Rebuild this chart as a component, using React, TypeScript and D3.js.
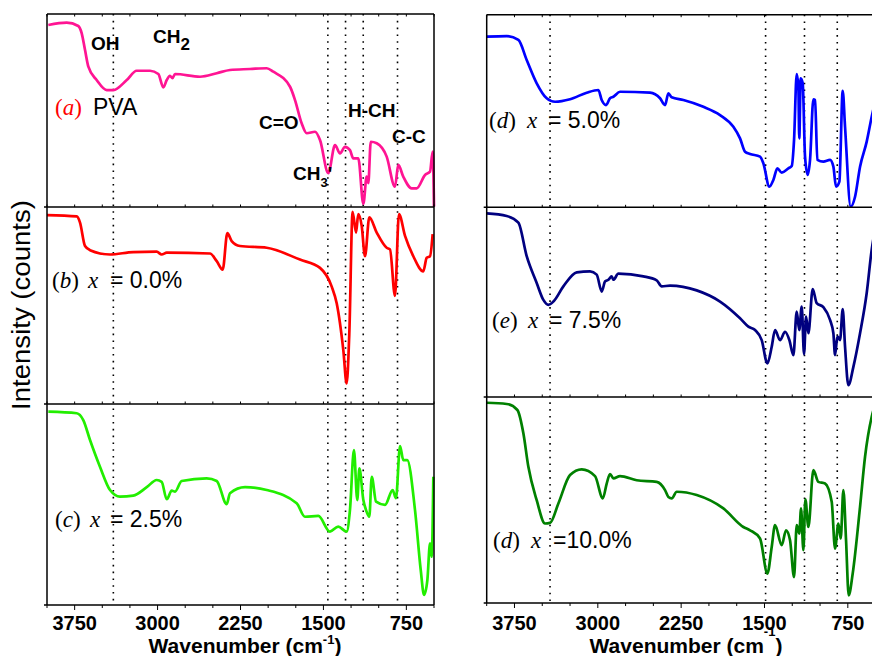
import React from 'react';
import * as d3 from 'd3';

// ---------- DATA (wavenumber in cm^-1, intensity in % of its panel height) ----------
const pvaWavenumber = [3988,3822,3717,3686,3656,3626,3551,3460,3400,3279,3189,3068,2993,2948,2917,2888,2865,2842,2616,2465,2345,2164,2013,1953,1802,1757,1697,1651,1576,1531,1456,1395,1350,1305,1260,1230,1185,1139,1109,1094,1072,1018,928,853,823,778,702,656,581,536,512,500];
const pvaIntensity = [94.3,95.5,93.8,90.0,81.3,72.7,65.8,60.6,60.6,65.8,70.6,70.6,68.9,62.0,65.8,67.9,66.8,68.9,67.5,69.3,71.0,71.5,71.9,70.1,62.3,55.4,43.4,38.2,39.0,34.7,17.5,32.1,27.8,31.2,29.5,25.2,25.2,1.6,15.7,12.4,33.8,33.0,26.1,10.5,21.8,15.7,9.7,9.7,16.6,18.3,28.7,0.2];

const x00Wavenumber = [4000,3731,3702,3656,3611,3430,3220,3008,2963,2917,2526,2465,2411,2369,2330,2255,2013,1712,1531,1425,1380,1320,1290,1266,1236,1205,1185,1154,1124,1085,1018,928,898,853,817,762,687,597,566,536,512];
const x00Intensity = [95.9,95.2,92.2,80.2,78.1,75.9,77.1,77.3,75.9,76.8,76.4,72.5,68.2,86.7,82.7,80.2,79.3,73.3,69.1,59.6,51.1,27.2,10.4,35.7,97.6,87.0,96.4,90.4,75.0,94.7,87.0,79.3,78.5,54.9,96.4,85.3,75.0,67.3,74.2,75.0,86.2];

const x25Wavenumber = [3988,3731,3672,3611,3521,3430,3340,3220,3098,3008,2963,2917,2872,2842,2782,2556,2465,2375,2345,2209,2013,1742,1667,1546,1441,1366,1290,1260,1224,1194,1175,1139,1115,1085,1063,1024,943,874,844,807,778,742,672,620,590,560,536,521,506];
const x25Intensity = [96.2,95.4,92.0,82.1,68.8,57.2,53.9,54.4,58.6,62.2,61.3,52.6,56.9,56.4,61.7,63.0,61.7,50.2,55.6,58.6,57.2,50.6,43.9,44.3,36.5,39.0,36.5,47.3,77.1,52.2,68.0,52.2,47.3,43.9,63.8,51.4,49.8,57.2,53.1,79.1,72.1,72.1,47.3,17.4,5.0,12.4,30.7,24.0,63.8];

const x50Wavenumber = [4000,3820,3715,3640,3550,3460,3385,3250,3100,2995,2965,2926,2890,2860,2800,2530,2440,2395,2365,2335,2230,2050,1900,1780,1720,1675,1630,1540,1510,1456,1420,1384,1345,1285,1255,1234,1210,1195,1187,1174,1156,1135,1111,1090,1060,1045,1024,970,910,880,856,826,796,775,724,685,640,580,535,500];
const x50Intensity = [88.6,88.9,86.9,76.5,64.4,56.6,54.8,56.1,59.5,60.9,55.7,53.1,56.6,57.4,60.0,59.5,56.6,53.1,59.2,57.1,55.7,52.2,47.9,41.8,35.8,28.9,27.7,26.3,22.8,10.7,14.2,20.2,18.0,20.2,21.4,34.9,69.2,62.6,35.8,67.0,64.4,26.3,16.8,24.6,56.1,55.7,24.6,23.7,24.6,21.1,10.7,13.3,60.5,41.8,0.3,5.5,21.1,34.1,47.0,56.0];

const x75Wavenumber = [4000,3820,3715,3640,3550,3490,3445,3400,3310,3190,3070,3010,2965,2935,2905,2875,2860,2815,2590,2470,2425,2350,2110,1900,1720,1645,1585,1525,1474,1435,1405,1360,1315,1276,1240,1210,1187,1165,1144,1126,1105,1066,1030,970,910,880,865,844,820,796,775,745,700,640,580,535,500];
const x75Intensity = [96.8,95.4,91.9,74.2,60.1,51.2,48.6,50.3,58.3,65.7,66.2,64.5,55.6,60.9,61.8,63.6,61.8,65.0,63.6,61.5,58.3,58.7,56.2,50.3,41.5,37.1,35.3,30.0,17.7,26.5,35.3,30.0,34.4,30.0,22.1,45.0,35.3,47.7,22.6,42.4,33.6,56.9,49.5,47.4,40.6,33.6,22.1,31.8,30.0,46.3,26.5,6.2,15.9,33.6,54.8,77.7,90.0];

const x100Wavenumber = [4000,3820,3724,3670,3625,3550,3475,3430,3355,3250,3145,3025,2955,2920,2890,2860,2800,2650,2470,2395,2365,2335,2290,2110,1870,1690,1630,1540,1474,1435,1405,1345,1306,1270,1234,1210,1187,1171,1150,1132,1105,1060,1015,955,895,865,835,814,790,766,742,706,640,595,535,500];
const x100Intensity = [97.2,96.6,93.7,82.4,66.1,49.9,38.6,38.9,48.3,62.1,64.9,61.6,50.8,58.0,62.6,60.5,61.6,59.6,58.8,54.8,51.5,50.8,54.0,52.4,45.9,36.9,35.3,31.3,14.3,27.2,37.8,28.1,35.3,30.5,12.6,37.8,33.7,45.9,25.6,50.3,36.9,64.5,58.8,58.0,49.1,26.4,38.6,31.3,54.8,30.5,3.7,14.3,46.7,71.0,90.4,97.0];

const leftGuides = [3400, 1460, 1300, 1140, 830];
const rightGuides = [3430, 1490, 1140, 845];
const tickValues = d3.range(4000, 499, -250);
const tickLabels = [3750, 3000, 2250, 1500, 750];

// ---------- LAYOUT ----------
const W = 872, H = 656;
const SANS = "'Liberation Sans', Arial, sans-serif";
const SERIF = "'Liberation Serif', 'Times New Roman', serif";

type Panel = { top: number; bottom: number; wn: number[]; val: number[]; color: string };

const leftCol = { x0: 47, x1: 434, top: 14, bottom: 605 };
const rightCol = { x0: 486.7, x1: 875.6, top: 14.7, bottom: 603 };

const leftPanels: Panel[] = [
  { top: 14, bottom: 207, wn: pvaWavenumber, val: pvaIntensity, color: '#ff1493' },
  { top: 207, bottom: 404, wn: x00Wavenumber, val: x00Intensity, color: '#ff0000' },
  { top: 404, bottom: 605, wn: x25Wavenumber, val: x25Intensity, color: '#22ee00' },
];
const rightPanels: Panel[] = [
  { top: 14.7, bottom: 207.3, wn: x50Wavenumber, val: x50Intensity, color: '#0000ff' },
  { top: 207.3, bottom: 397, wn: x75Wavenumber, val: x75Intensity, color: '#000080' },
  { top: 397, bottom: 603, wn: x100Wavenumber, val: x100Intensity, color: '#008000' },
];

function Column({ col, panels, guides, titleX, supDy }: any) {
  const x = d3.scaleLinear().domain([4000, 500]).range([col.x0, col.x1]);
  return (
    <g>
      {guides.map((g: number) => (
        <line key={'g' + g} x1={x(g)} x2={x(g)} y1={col.top} y2={col.bottom}
          stroke="#000" strokeWidth={1.6} strokeDasharray="1.6,5.2" />
      ))}
      {panels.map((p: Panel, i: number) => {
        const y = d3.scaleLinear().domain([0, 100]).range([p.bottom, p.top]);
        const line = d3.line<number>().x((_, k) => x(p.wn[k])).y((v) => y(v)).curve(d3.curveMonotoneX);
        return <path key={'s' + i} d={line(p.val) || ''} fill="none" stroke={p.color}
          strokeWidth={2.7} strokeLinejoin="round" />;
      })}
      <line x1={col.x0} x2={col.x1} y1={col.top} y2={col.top} stroke="#000" strokeWidth={1.5} />
      <line x1={col.x0} x2={col.x0} y1={col.top} y2={col.bottom} stroke="#000" strokeWidth={1.5} />
      <line x1={col.x1} x2={col.x1} y1={col.top} y2={col.bottom} stroke="#000" strokeWidth={1.5} />
      {panels.map((p: Panel, i: number) => (
        <g key={'b' + i}>
          <line x1={col.x0 - 3} x2={col.x1} y1={p.bottom} y2={p.bottom} stroke="#000" strokeWidth={1.5} />
          {tickValues.map((t) => (
            <line key={t} x1={x(t)} x2={x(t)} y1={p.bottom}
              y2={i === panels.length - 1 ? p.bottom + (tickLabels.includes(t) ? 5 : 3) : p.bottom - 2.5}
              stroke="#000" strokeWidth={1} />
          ))}
        </g>
      ))}
      {tickValues.map((t) => (
        <line key={'t' + t} x1={x(t)} x2={x(t)} y1={col.top} y2={col.top + 2.5} stroke="#000" strokeWidth={1} />
      ))}
      {tickLabels.map((t) => (
        <text key={'l' + t} x={x(t)} y={630} textAnchor="middle" fontFamily={SANS}
          fontWeight="bold" fontSize={20}>{t}</text>
      ))}
      <text x={titleX} y={653} textAnchor="middle" fontFamily={SANS} fontWeight="bold" fontSize={21}>
        Wavenumber (cm<tspan fontSize={13} dy={supDy}>-1</tspan><tspan dy={-supDy}>)</tspan>
      </text>
    </g>
  );
}

function SampleLabel({ x0, y, letter, xPos, eqPos, rest }: any) {
  return (
    <text y={y} fontSize={23}>
      <tspan x={x0} fontFamily={SERIF}>(</tspan>
      <tspan fontFamily={SERIF} fontStyle="italic">{letter}</tspan>
      <tspan fontFamily={SERIF}>)</tspan>
      <tspan x={xPos} fontFamily={SERIF} fontStyle="italic">x</tspan>
      <tspan x={eqPos} fontFamily={SANS}>{rest}</tspan>
    </text>
  );
}

export default function App() {
  const ann = { fontFamily: SANS, fontWeight: 'bold' as const, fontSize: 19 };
  return (
    <svg width={W} height={H} style={{ position: 'absolute', left: 0, top: 0, background: '#fff' }}>
      <rect width={W} height={H} fill="#fff" />
      <Column col={leftCol} panels={leftPanels} guides={leftGuides} titleX={245} supDy={-9} />
      <Column col={rightCol} panels={rightPanels} guides={rightGuides} titleX={686} supDy={-17} />

      <text transform="translate(30,305) rotate(-90)" textAnchor="middle" fontFamily={SANS}
        fontSize={25} textLength={210} lengthAdjust="spacingAndGlyphs">Intensity (counts)</text>

      <text x={91} y={50} {...ann}>OH</text>
      <text x={153} y={43} {...ann}>CH<tspan fontSize={17} dy={7}>2</tspan></text>
      <text x={259} y={129} {...ann}>C=O</text>
      <text x={348} y={117} {...ann}>H-CH</text>
      <text x={392} y={143} {...ann}>C-C</text>
      <text x={293} y={180} {...ann}>CH<tspan fontSize={13} dy={7}>3</tspan><tspan dy={-7}>'</tspan></text>

      <text y={115} fontSize={23}>
        <tspan x={55} fontFamily={SERIF} fill="#ff0000">(</tspan>
        <tspan fontFamily={SERIF} fontStyle="italic" fill="#ff0000">a</tspan>
        <tspan fontFamily={SERIF} fill="#ff0000">)</tspan>
        <tspan x={93} fontFamily={SANS}>PVA</tspan>
      </text>
      <SampleLabel x0={52} y={288} letter="b" xPos={88} eqPos={110} rest="= 0.0%" />
      <SampleLabel x0={55} y={527} letter="c" xPos={90} eqPos={110} rest="= 2.5%" />
      <SampleLabel x0={489} y={128} letter="d" xPos={527} eqPos={548} rest="= 5.0%" />
      <SampleLabel x0={492} y={328} letter="e" xPos={528} eqPos={549} rest="= 7.5%" />
      <SampleLabel x0={493} y={548} letter="d" xPos={531} eqPos={553} rest="=10.0%" />
    </svg>
  );
}
